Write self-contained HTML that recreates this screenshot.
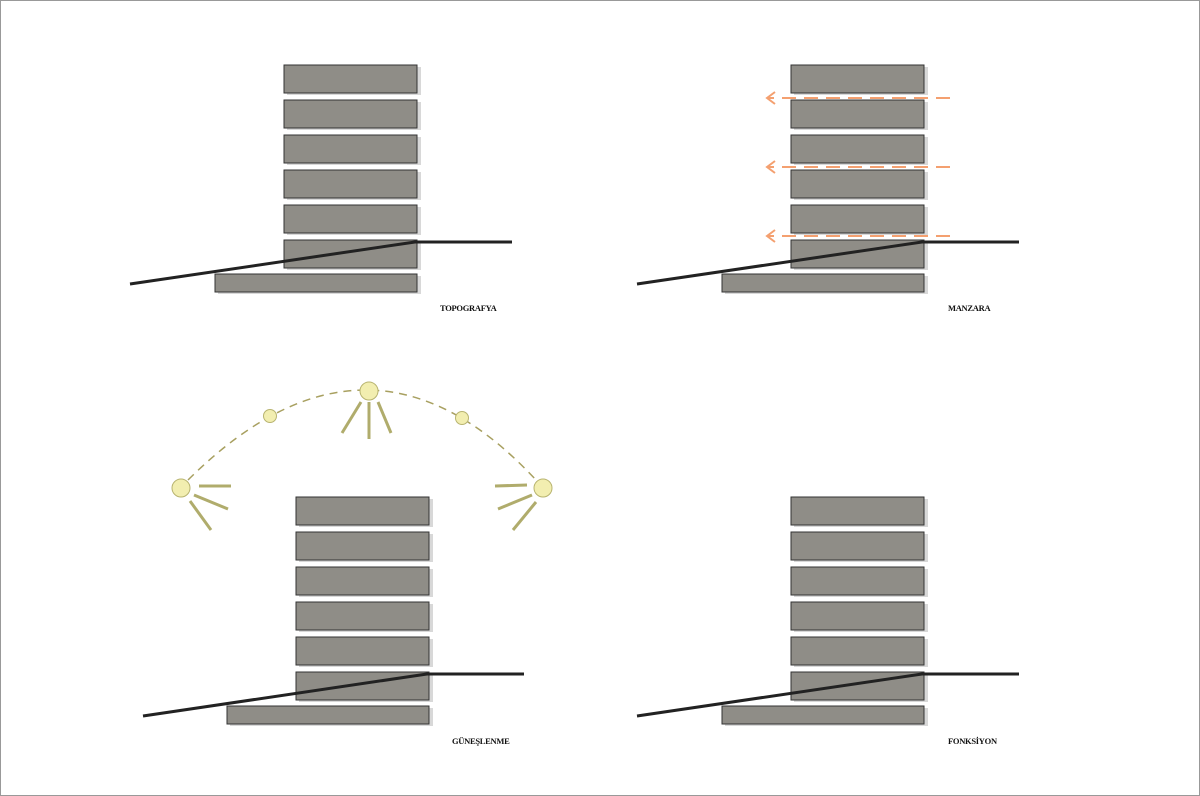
<!DOCTYPE html>
<html><head><meta charset="utf-8"><style>
html,body{margin:0;padding:0;background:#fff;}
svg{display:block;}
text{font-family:"Liberation Serif",serif;font-size:8.5px;font-weight:bold;fill:#111;letter-spacing:-0.3px;}
</style></head><body>
<svg width="1200" height="796" viewBox="0 0 1200 796" xmlns="http://www.w3.org/2000/svg">
<defs>
<g id="slab"><rect x="3" y="2" width="134" height="28" fill="#d8d8d8"/><rect x="0" y="0" width="133" height="28" fill="#8f8d87" stroke="#333" stroke-width="1"/></g>
<g id="base"><rect x="3" y="2" width="203" height="18" fill="#d8d8d8"/><rect x="0" y="0" width="202" height="18" fill="#8f8d87" stroke="#333" stroke-width="1"/></g>
</defs>
<rect x="0.5" y="0.5" width="1199" height="795" fill="#fff" stroke="#999"/>

<g>
<use href="#slab" x="284" y="65"/><use href="#slab" x="284" y="100"/><use href="#slab" x="284" y="135"/>
<use href="#slab" x="284" y="170"/><use href="#slab" x="284" y="205"/><use href="#slab" x="284" y="240"/>
<use href="#base" x="215" y="274"/>
<polyline points="130,284 415,242 512,242" fill="none" stroke="#222" stroke-width="3"/>
<text x="440" y="311">TOPOGRAFYA</text>
</g>

<g>
<use href="#slab" x="791" y="65"/><use href="#slab" x="791" y="100"/><use href="#slab" x="791" y="135"/>
<use href="#slab" x="791" y="170"/><use href="#slab" x="791" y="205"/><use href="#slab" x="791" y="240"/>
<use href="#base" x="722" y="274"/>
<polyline points="637,284 922,242 1019,242" fill="none" stroke="#222" stroke-width="3"/>
<g stroke="#f4a070" stroke-width="2" fill="none">
<line x1="950" y1="98" x2="768" y2="98" stroke-dasharray="14,8"/>
<polyline points="775,92 767,98 775,104"/>
<line x1="950" y1="167" x2="768" y2="167" stroke-dasharray="14,8"/>
<polyline points="775,161 767,167 775,173"/>
<line x1="950" y1="236" x2="768" y2="236" stroke-dasharray="14,8"/>
<polyline points="775,230 767,236 775,242"/>
</g>
<text x="948" y="311">MANZARA</text>
</g>

<g>
<path d="M188,480 Q369,300 536,480" fill="none" stroke="#a8a060" stroke-width="1.5" stroke-dasharray="8,6"/>
<g stroke="#b0ac6c" stroke-width="3" stroke-linecap="butt">
<line x1="361" y1="402" x2="342" y2="433"/><line x1="369" y1="402" x2="369" y2="439"/><line x1="378" y1="402" x2="391" y2="433"/>
<line x1="199" y1="486" x2="231" y2="486"/><line x1="194" y1="495" x2="228" y2="509"/><line x1="190" y1="501" x2="211" y2="530"/>
<line x1="495" y1="486" x2="527" y2="485"/><line x1="498" y1="509" x2="532" y2="495"/><line x1="513" y1="530" x2="536" y2="502"/>
</g>
<g fill="#f2eeb0" stroke="#b8b470" stroke-width="1">
<circle cx="181" cy="488" r="9"/><circle cx="270" cy="416" r="6.5"/><circle cx="369" cy="391" r="9"/>
<circle cx="462" cy="418" r="6.5"/><circle cx="543" cy="488" r="9"/>
</g>
<use href="#slab" x="296" y="497"/><use href="#slab" x="296" y="532"/><use href="#slab" x="296" y="567"/>
<use href="#slab" x="296" y="602"/><use href="#slab" x="296" y="637"/><use href="#slab" x="296" y="672"/>
<use href="#base" x="227" y="706"/>
<polyline points="143,716 427,674 524,674" fill="none" stroke="#222" stroke-width="3"/>
<text x="452" y="744">GÜNEŞLENME</text>
</g>

<g>
<use href="#slab" x="791" y="497"/><use href="#slab" x="791" y="532"/><use href="#slab" x="791" y="567"/>
<use href="#slab" x="791" y="602"/><use href="#slab" x="791" y="637"/><use href="#slab" x="791" y="672"/>
<use href="#base" x="722" y="706"/>
<polyline points="637,716 922,674 1019,674" fill="none" stroke="#222" stroke-width="3"/>
<text x="948" y="744">FONKSİYON</text>
</g>
</svg>
</body></html>
